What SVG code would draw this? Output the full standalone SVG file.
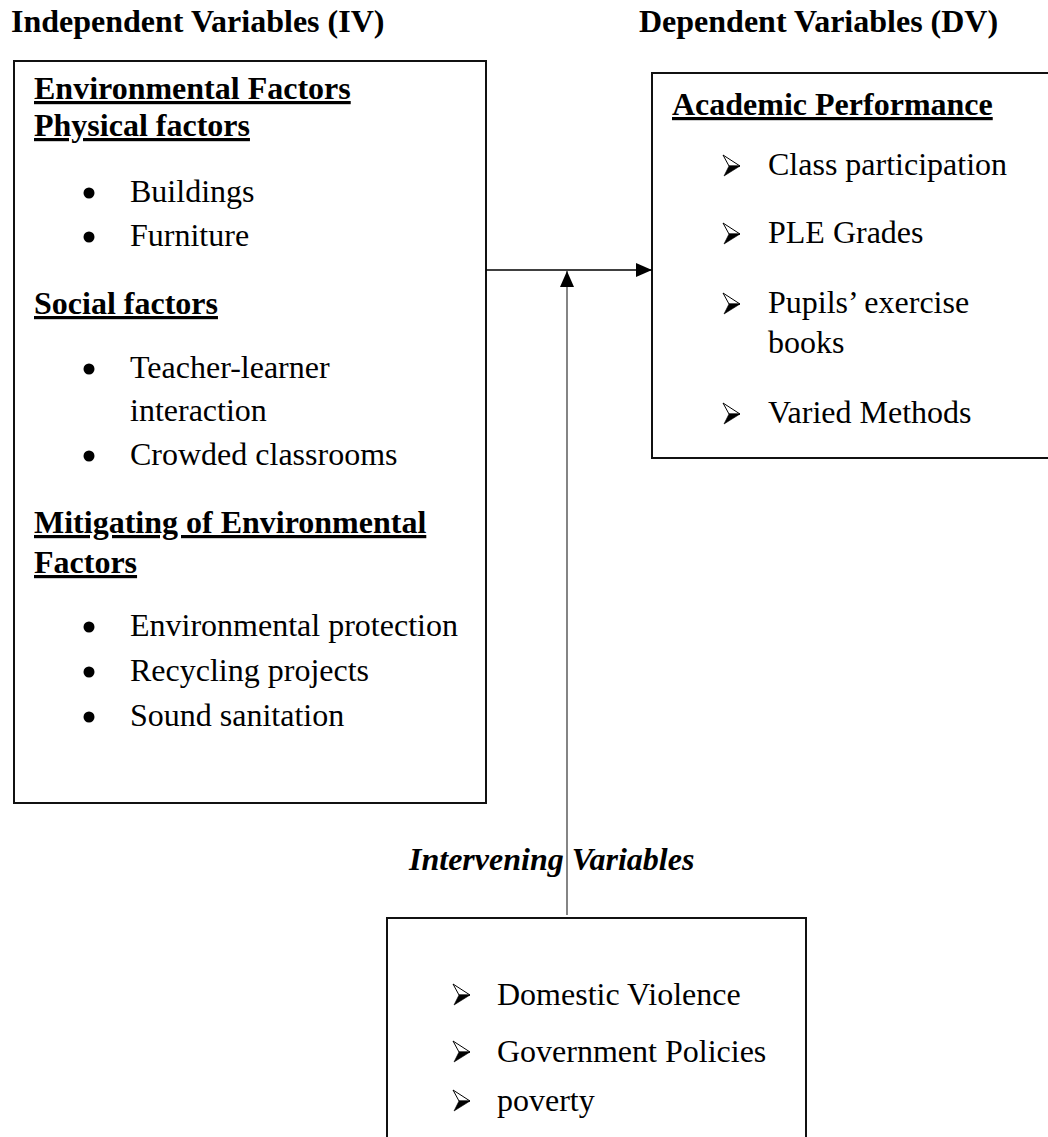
<svg xmlns="http://www.w3.org/2000/svg" xmlns:xlink="http://www.w3.org/1999/xlink" width="1048" height="1137" viewBox="0 0 1048 1137">
<style>
text{font-family:"Liberation Serif","Times New Roman",serif;font-size:32px;fill:#000}
.b{font-weight:bold}
.u{text-decoration:underline}
.bi{font-weight:bold;font-style:italic}
.box{fill:#fff;stroke:#111;stroke-width:2}
.dot{fill:#000}
</style>
<defs>
<g id="arr">
<polygon points="0,0 17,11 6,11" fill="#fff" stroke="#000" stroke-width="1"/>
<polygon points="6,11 17,11 1,21" fill="#000" stroke="#000" stroke-width="0.6"/>
</g>
<marker id="ah" markerWidth="16" markerHeight="14" refX="16" refY="7" orient="auto" markerUnits="userSpaceOnUse">
<path d="M0,0 L16,7 L0,14 Z" fill="#000"/>
</marker>
</defs>
<text class="b" x="11" y="32">Independent Variables (IV)</text>
<text class="b" x="639" y="32">Dependent Variables (DV)</text>
<g id="iv">
<rect class="box" x="14" y="61" width="472" height="742"/>
<text class="b u" x="34" y="99">Environmental Factors</text>
<text class="b u" x="34" y="136">Physical factors</text>
<circle class="dot" cx="89" cy="193" r="5.5"/>
<text x="130" y="202">Buildings</text>
<circle class="dot" cx="89" cy="237" r="5.5"/>
<text x="130" y="246">Furniture</text>
<text class="b u" x="34" y="314">Social factors</text>
<circle class="dot" cx="89" cy="369" r="5.5"/>
<text x="130" y="378">Teacher-learner</text>
<text x="130" y="421">interaction</text>
<circle class="dot" cx="89" cy="456" r="5.5"/>
<text x="130" y="465">Crowded classrooms</text>
<text class="b u" x="34" y="533">Mitigating of Environmental</text>
<text class="b u" x="34" y="573">Factors</text>
<circle class="dot" cx="89" cy="627" r="5.5"/>
<text x="130" y="636">Environmental protection</text>
<circle class="dot" cx="89" cy="672" r="5.5"/>
<text x="130" y="681">Recycling projects</text>
<circle class="dot" cx="89" cy="717" r="5.5"/>
<text x="130" y="726">Sound sanitation</text>
</g>
<g id="dv">
<rect class="box" x="652" y="73" width="400" height="385"/>
<text class="b u" x="672" y="115">Academic Performance</text>
<use xlink:href="#arr" x="723" y="155"/>
<text x="768" y="175">Class participation</text>
<use xlink:href="#arr" x="723" y="223"/>
<text x="768" y="243">PLE Grades</text>
<use xlink:href="#arr" x="723" y="293"/>
<text x="768" y="313">Pupils’ exercise</text>
<text x="768" y="353">books</text>
<use xlink:href="#arr" x="723" y="403"/>
<text x="768" y="423">Varied Methods</text>
</g>
<g id="intervening">
<rect class="box" x="387" y="918" width="419" height="240"/>
<use xlink:href="#arr" x="453" y="984"/>
<text x="497" y="1005">Domestic Violence</text>
<use xlink:href="#arr" x="453" y="1041"/>
<text x="497" y="1062">Government Policies</text>
<use xlink:href="#arr" x="453" y="1090"/>
<text x="497" y="1111">poverty</text>
</g>
<text class="bi" x="409" y="870">Intervening Variables</text>
<g id="connectors">
<line x1="486" y1="270" x2="652" y2="270" stroke="#000" stroke-width="1.6" marker-end="url(#ah)"/>
<line x1="567" y1="915" x2="567" y2="271" stroke="#333" stroke-width="1.2" marker-end="url(#ah)"/>
</g>
</svg>
